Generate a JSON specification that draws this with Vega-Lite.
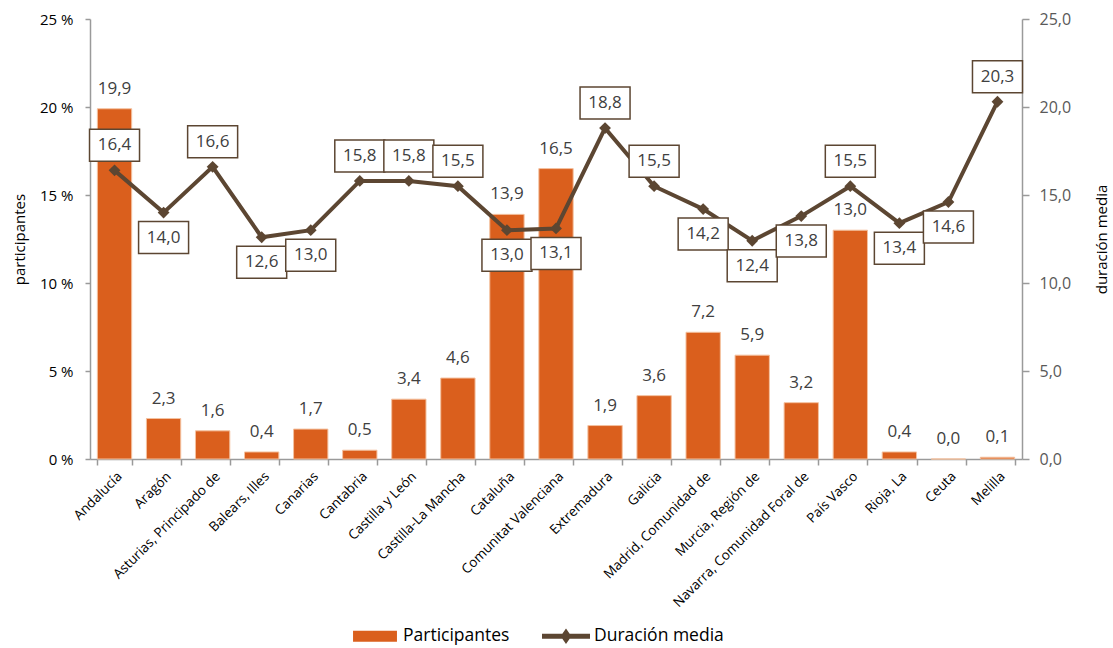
{
  "$schema": "https://vega.github.io/schema/vega-lite/v6.json",
  "width": 932,
  "height": 440,
  "padding": {"left": 12, "top": 11, "right": 0, "bottom": 0},
  "config": {
    "font": "Open Sans",
    "view": {"stroke": null},
    "axis": {"grid": false, "domainColor": "#9a9a9a", "tickColor": "#9a9a9a", "domainWidth": 1.5, "tickWidth": 1.5, "labelFont": "Open Sans", "titleFont": "Open Sans"},
    "legend": {"labelFont": "Open Sans"}
  },
  "data": {
    "values": [
      {"region": "Andalucía", "part": 19.9, "dur": 16.4},
      {"region": "Aragón", "part": 2.3, "dur": 14.0},
      {"region": "Asturias, Principado de", "part": 1.6, "dur": 16.6},
      {"region": "Balears, Illes", "part": 0.4, "dur": 12.6},
      {"region": "Canarias", "part": 1.7, "dur": 13.0},
      {"region": "Cantabria", "part": 0.5, "dur": 15.8},
      {"region": "Castilla y León", "part": 3.4, "dur": 15.8},
      {"region": "Castilla-La Mancha", "part": 4.6, "dur": 15.5},
      {"region": "Cataluña", "part": 13.9, "dur": 13.0},
      {"region": "Comunitat Valenciana", "part": 16.5, "dur": 13.1},
      {"region": "Extremadura", "part": 1.9, "dur": 18.8},
      {"region": "Galicia", "part": 3.6, "dur": 15.5},
      {"region": "Madrid, Comunidad de", "part": 7.2, "dur": 14.2},
      {"region": "Murcia, Región de", "part": 5.9, "dur": 12.4},
      {"region": "Navarra, Comunidad Foral de", "part": 3.2, "dur": 13.8},
      {"region": "País Vasco", "part": 13.0, "dur": 15.5},
      {"region": "Rioja, La", "part": 0.4, "dur": 13.4},
      {"region": "Ceuta", "part": 0.0, "dur": 14.6},
      {"region": "Melilla", "part": 0.1, "dur": 20.3}
    ]
  },
  "transform": [
    {"calculate": "replace(format(datum.part, '.1f'), '.', ',')", "as": "partLabel"},
    {"calculate": "replace(format(datum.dur, '.1f'), '.', ',')", "as": "durLabel"}
  ],
  "encoding": {
    "x": {
      "field": "region",
      "type": "nominal",
      "sort": null,
      "scale": {"paddingInner": 0.3, "paddingOuter": 0.15},
      "axis": {"title": null, "labelAngle": -45, "labelFontSize": 13.5, "labelColor": "black", "labelLimit": 400, "tickBand": "extent", "tickSize": 6, "labelPadding": 4}
    }
  },
  "layer": [
    {
      "encoding": {
        "y": {
          "field": "part",
          "type": "quantitative",
          "scale": {"domain": [0, 25]},
          "axis": {"orient": "left", "values": [0, 5, 10, 15, 20, 25], "labelExpr": "datum.value + ' %'", "title": "participantes", "titleFontWeight": "normal", "titleFontSize": 15, "titleColor": "black", "labelFontSize": 15, "labelColor": "black", "tickSize": 5, "labelPadding": 12, "titlePadding": 12}
        }
      },
      "layer": [
        {
          "mark": {"type": "bar", "stroke": "#F4C2A0", "strokeWidth": 1},
          "encoding": {
            "color": {
              "datum": "Participantes",
              "scale": {"domain": ["Participantes", "Duración media"], "range": ["#DA5F1D", "#5C4632"]},
              "legend": {
                "orient": "none", "legendX": 273, "legendY": 605, "title": null, "direction": "horizontal", "labelFontSize": 17.5, "labelColor": "black",
                "symbolSize": 576, "columnPadding": 32, "labelOffset": 16,
                "encode": {"symbols": {"update": {
                  "shape": {"signal": "datum.value === 'Participantes' ? 'M-1.83,-0.46H1.83V0.46H-1.83Z' : 'M-2,-0.2H2V0.2H-2Z M0,-0.65L0.45,0L0,0.65L-0.45,0Z'"},
                  "fill": {"signal": "datum.value === 'Participantes' ? '#DA5F1D' : '#5C4632'"},
                  "stroke": {"value": "transparent"},
                  "strokeWidth": {"value": 0},
                  "opacity": {"value": 1}
                }}}
              }
            }
          }
        },
        {
          "mark": {"type": "text", "dy": -11, "baseline": "bottom", "fontSize": 17, "color": "#404040"},
          "encoding": {"text": {"field": "partLabel"}}
        }
      ]
    },
    {
      "encoding": {
        "y": {
          "field": "dur",
          "type": "quantitative",
          "scale": {"domain": [0, 25]},
          "axis": {"orient": "right", "values": [0, 5, 10, 15, 20, 25], "labelExpr": "replace(format(datum.value, '.1f'), '.', ',')", "title": "duración media", "titleAngle": 270, "titleBaseline": "top", "titleFontWeight": "normal", "titleFontSize": 15, "titleColor": "black", "labelFontSize": 16, "labelColor": "#595959", "tickSize": 7, "labelPadding": 10, "titlePadding": 24}
        }
      },
      "layer": [
        {
          "mark": {"type": "line", "strokeWidth": 4},
          "encoding": {
            "color": {
              "datum": "Duración media",
              "scale": {"domain": ["Participantes", "Duración media"], "range": ["#DA5F1D", "#5C4632"]},
              "legend": {
                "orient": "none", "legendX": 273, "legendY": 605, "title": null, "direction": "horizontal", "labelFontSize": 17.5, "labelColor": "black",
                "symbolSize": 576, "columnPadding": 32, "labelOffset": 16,
                "encode": {"symbols": {"update": {
                  "shape": {"signal": "datum.value === 'Participantes' ? 'M-1.83,-0.46H1.83V0.46H-1.83Z' : 'M-2,-0.2H2V0.2H-2Z M0,-0.65L0.45,0L0,0.65L-0.45,0Z'"},
                  "fill": {"signal": "datum.value === 'Participantes' ? '#DA5F1D' : '#5C4632'"},
                  "stroke": {"value": "transparent"},
                  "strokeWidth": {"value": 0},
                  "opacity": {"value": 1}
                }}}
              }
            }
          }
        },
        {
          "mark": {"type": "point", "shape": "diamond", "size": 140, "filled": true, "color": "#5C4632", "opacity": 1}
        },
        {
          "transform": [{"filter": "datum.dur >= 15"}],
          "mark": {"type": "point", "shape": "M-1,-1.64H1V-0.36H-1Z", "size": 2500, "filled": true, "fill": "white", "stroke": "#5C4632", "strokeWidth": 1.5, "opacity": 1}
        },
        {
          "transform": [{"filter": "datum.dur < 15"}],
          "mark": {"type": "point", "shape": "M-1,0.36H1V1.64H-1Z", "size": 2500, "filled": true, "fill": "white", "stroke": "#5C4632", "strokeWidth": 1.5, "opacity": 1}
        },
        {
          "transform": [{"filter": "datum.dur >= 15"}],
          "mark": {"type": "text", "dy": -25, "baseline": "middle", "fontSize": 17, "color": "#404040"},
          "encoding": {"text": {"field": "durLabel"}}
        },
        {
          "transform": [{"filter": "datum.dur < 15"}],
          "mark": {"type": "text", "dy": 25, "baseline": "middle", "fontSize": 17, "color": "#404040"},
          "encoding": {"text": {"field": "durLabel"}}
        }
      ]
    }
  ],
  "resolve": {"scale": {"y": "independent"}}
}
